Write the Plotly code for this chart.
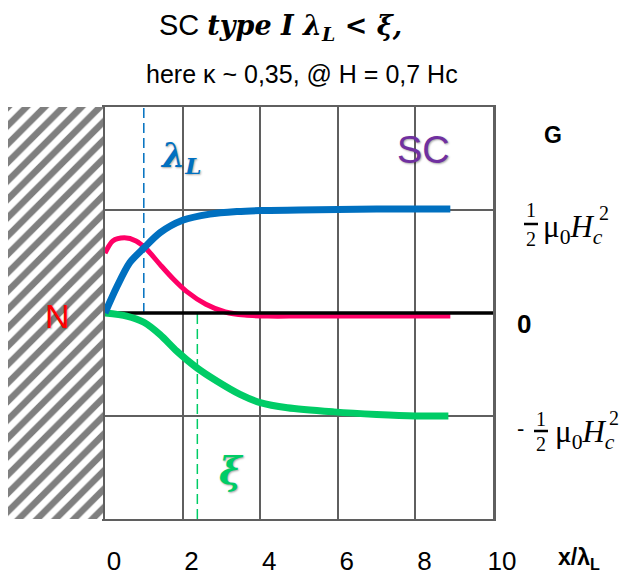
import plotly.graph_objects as go

# ---------------- data ----------------
X_TICKS = [0, 2, 4, 6, 8, 10]
TICK_LABELS = ["0", "2", "4", "6", "8", "10"]

# magnetic (field) term - blue
X_BLUE = [0, 0.3, 0.64, 1.0, 1.42, 2.0, 2.7, 3.4, 4.0, 5.0, 6.0, 7.0, 8.0, 8.9]
Y_BLUE = [0, 0.25, 0.49, 0.63, 0.78, 0.90, 0.96, 0.985, 0.995, 1.0, 1.005, 1.01, 1.01, 1.01]

# total surface energy - pink
X_PINK = [0, 0.2, 0.5, 0.8, 1.07, 1.42, 1.76, 2.1, 2.6, 3.1, 3.6, 4.2, 5.0, 6.0, 7.0, 8.0, 8.9]
Y_PINK = [0.58, 0.70, 0.73, 0.70, 0.62, 0.47, 0.33, 0.21, 0.085, 0.01, -0.02, -0.03, -0.03, -0.03, -0.03, -0.03, -0.03]

# condensation term - green
X_GREEN = [0, 0.56, 1.0, 1.42, 1.85, 2.36, 2.88, 3.48, 4.0, 4.7, 5.9, 7.0, 8.0, 8.85]
Y_GREEN = [0, -0.03, -0.09, -0.21, -0.37, -0.53, -0.66, -0.79, -0.87, -0.92, -0.96, -0.985, -1.0, -1.0]

ZERO_X = [0, 10]
ZERO_Y = [0, 0]
LAMBDA_X = 1.0     # x / lambda_L
XI_X = 2.38        # xi / lambda_L
Y_MIN, Y_MAX = -2, 2
X_MIN, X_MAX = 0, 10
HATCH_X = [0, 1, 1, 0, 0]
HATCH_Y = [Y_MIN, Y_MIN, Y_MAX, Y_MAX, Y_MIN]

# ---------------- styles ----------------
BLUE = "#0070C0"
PINK = "#FF0066"
GREEN = "#00CC66"
GRID = "#5f5f5f"
SANS = "Liberation Sans, Arial, sans-serif"
SERIF = "Liberation Serif, serif"
DSERIF = "DejaVu Serif, serif"

W, H = 627, 575
ML, MR, MT, MB = 8, 134, 107, 56
PW = W - ML - MR
PH = H - MT - MB


def px(x):
    return (x - ML) / PW


def py(y):
    return (H - MB - y) / PH


fig = go.Figure()

# hatched normal-metal region
fig.add_trace(go.Scatter(
    x=HATCH_X, y=HATCH_Y, xaxis="x2", yaxis="y", mode="none",
    fill="toself", fillcolor="white",
    fillpattern=dict(shape="/", size=13, solidity=0.5, fgcolor="#7f7f7f",
                     bgcolor="white", fillmode="replace"),
    hoverinfo="skip", showlegend=False))

# dashed markers
fig.add_trace(go.Scatter(x=[LAMBDA_X, LAMBDA_X], y=[0, Y_MAX], mode="lines",
                         line=dict(color=BLUE, width=1.5, dash="10px,5px"),
                         hoverinfo="skip", showlegend=False))
fig.add_trace(go.Scatter(x=[XI_X, XI_X], y=[Y_MIN, 0], mode="lines",
                         line=dict(color=GREEN, width=1.5, dash="10px,5px"),
                         hoverinfo="skip", showlegend=False))

fig.add_trace(go.Scatter(x=X_PINK, y=Y_PINK, mode="lines",
                         line=dict(color=PINK, width=5, shape="spline", smoothing=0.8),
                         hoverinfo="skip", showlegend=False))
fig.add_trace(go.Scatter(x=ZERO_X, y=ZERO_Y, mode="lines",
                         line=dict(color="black", width=3.5),
                         hoverinfo="skip", showlegend=False))
fig.add_trace(go.Scatter(x=X_GREEN, y=Y_GREEN, mode="lines",
                         line=dict(color=GREEN, width=7, shape="spline", smoothing=0.8),
                         hoverinfo="skip", showlegend=False))
fig.add_trace(go.Scatter(x=X_BLUE, y=Y_BLUE, mode="lines",
                         line=dict(color=BLUE, width=7, shape="spline", smoothing=0.8),
                         hoverinfo="skip", showlegend=False))

shadow = "1px 1px 2px rgba(0,0,0,0.35)"
ann = []


def add(text, x, y, size, color="black", family=SANS, xanchor="center", sh="none"):
    ann.append(dict(text=text, x=px(x), y=py(y), xref="paper", yref="paper",
                    xanchor=xanchor, yanchor="middle", showarrow=False,
                    font=dict(size=size, color=color, family=family, shadow=sh)))


add("SC <span style=\"font-family:DejaVu Serif;font-size:27px\"><b><i>type I λ<sub>L</sub> &lt; ξ,</i></b></span>",
    280, 27, 29)
add("here κ ~ 0,35, @ H = 0,7 Hc", 302, 74, 25)
add("<b><i>λ<sub>L</sub></i></b>", 180, 158, 33, BLUE, DSERIF, sh=shadow)
add("SC", 423, 150, 38, "#7030A0", SANS, sh=shadow)
add("N", 57, 316, 34, "#FF0000", SANS, sh=shadow)
add("<b><i>ξ</i></b>", 231, 470, 38, GREEN, DSERIF, sh=shadow)
add("<b>G</b>", 553, 135, 23)
add("<b>0</b>", 524, 324, 26)
add("<b>x/λ<sub>L</sub></b>", 579, 558, 23)

# upper energy label  1/2 mu0 Hc^2
add("1", 531, 210, 20, family=SERIF)
add("2", 531, 239, 20, family=SERIF)
add("μ<sub>0</sub><i>H</i><sub><i>c</i></sub>", 541, 229, 31, family=SERIF, xanchor="left")
add("2", 604, 213, 20, family=SERIF)
# lower energy label  - 1/2 mu0 Hc^2
add("-", 520, 428, 22, family=SANS)
add("1", 541, 419, 20, family=SERIF)
add("2", 541, 444, 20, family=SERIF)
add("μ<sub>0</sub><i>H</i><sub><i>c</i></sub>", 553, 434, 31, family=SERIF, xanchor="left")
add("2", 614, 418, 20, family=SERIF)

shapes = [
    dict(type="line", xref="paper", yref="paper", x0=px(524), x1=px(538), y0=py(224), y1=py(224),
         line=dict(color="black", width=2.5)),
    dict(type="line", xref="paper", yref="paper", x0=px(534), x1=px(548), y0=py(431), y1=py(431),
         line=dict(color="black", width=2.5)),
]

fig.update_layout(
    width=W, height=H,
    margin=dict(l=ML, r=MR, t=MT, b=MB, pad=0),
    paper_bgcolor="white", plot_bgcolor="white",
    showlegend=False,
    annotations=ann, shapes=shapes,
    xaxis=dict(domain=[px(105), 1], range=[X_MIN, X_MAX], tickvals=X_TICKS, ticktext=TICK_LABELS,
               showgrid=True, gridcolor=GRID, gridwidth=2, zeroline=False, automargin=False,
               showline=True, linecolor=GRID, linewidth=2, mirror=True, ticks="",
               tickfont=dict(size=26, color="black", family=SANS),
               ticklabelshift=9, ticklabelstandoff=18),
    xaxis2=dict(domain=[0, px(103)], range=[0, 1], visible=False, anchor="y", automargin=False,
                showgrid=False, zeroline=False),
    yaxis=dict(range=[Y_MIN, Y_MAX], dtick=1, tick0=0, showgrid=True, gridcolor=GRID, gridwidth=2,
               zeroline=False, showticklabels=False, ticks="", automargin=False,
               showline=True, linecolor=GRID, linewidth=3, mirror=True),
)

fig.write_html("out.html", config={"displayModeBar": False},
               post_script="document.body.style.margin='0px';")
